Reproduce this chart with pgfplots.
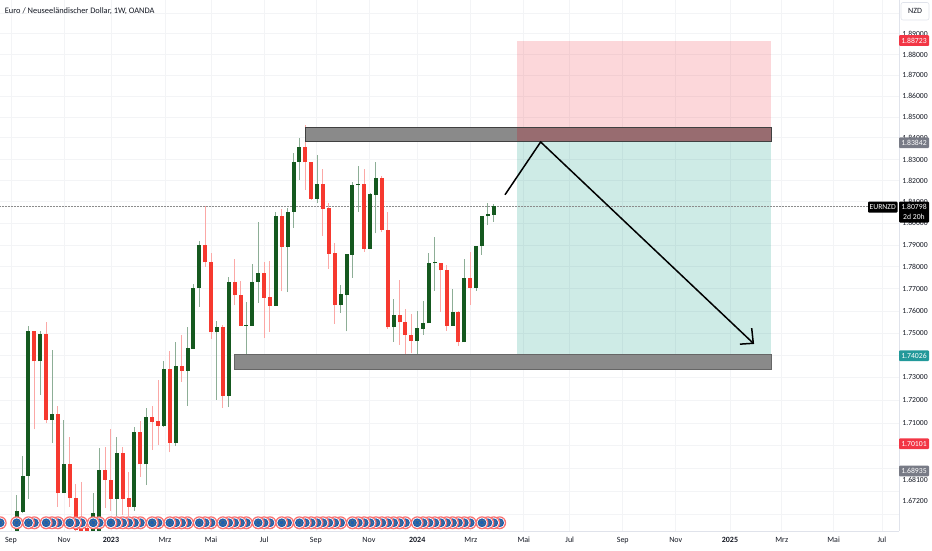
\documentclass[border=0pt]{standalone}
\usepackage{pgfplots}
\usepackage{pgfplotstable}
\usepackage{fontspec}
\setmainfont{Carlito}
\pgfplotsset{compat=1.18}
\definecolor{cgreen}{HTML}{15591F}
\definecolor{cred}{HTML}{F6392F}
\definecolor{wgreen}{HTML}{8DAE96}
\definecolor{wred}{HTML}{FBA8A6}
\definecolor{gridc}{HTML}{F3F4F6}
\definecolor{linec}{HTML}{E0E3EB}
\definecolor{tagred}{HTML}{F23645}
\definecolor{taggray}{HTML}{787B86}
\definecolor{tagteal}{HTML}{22999A}
\definecolor{zonered}{HTML}{F23645}
\definecolor{zoneteal}{HTML}{089981}
\definecolor{txt}{HTML}{131722}
\definecolor{evred}{HTML}{F86F6F}
\definecolor{evblue}{HTML}{1E5FAF}
\definecolor{evdot}{HTML}{6E7D6E}
\pgfplotstableread{
x wt bt bb wb
0 1.6786 1.6717 1.6627 1.6627
1 1.6955 1.6868 1.6714 1.6707
2 1.7532 1.7507 1.6868 1.6769
4 1.7510 1.7496 1.7372 1.7224
6 1.7424 1.7138 1.7113 1.7011
8 1.7113 1.6919 1.6793 1.6793
13 1.6793 1.6708 1.6631 1.6631
14 1.6991 1.6892 1.6631 1.6631
17 1.7037 1.6967 1.6769 1.6693
20 1.7081 1.7059 1.6735 1.6718
22 1.7167 1.7128 1.6919 1.6829
25 1.7376 1.7341 1.7087 1.7081
27 1.7460 1.7350 1.7013 1.7000
29 1.7528 1.7432 1.7330 1.7176
30 1.7723 1.7704 1.7430 1.7428
31 1.7920 1.7901 1.7703 1.7617
34 1.7555 1.7525 1.7502 1.7203
36 1.7755 1.7732 1.7219 1.7169
39 1.7641 1.7537 1.7531 1.7397
40 1.7811 1.7732 1.7532 1.7532
41 1.8006 1.7774 1.7730 1.7637
44 1.8051 1.8032 1.7622 1.7622
46 1.8071 1.8054 1.7891 1.7685
47 1.8329 1.8289 1.8054 1.7979
48 1.8400 1.8359 1.8289 1.8204
51 1.8319 1.8185 1.8114 1.8094
55 1.7718 1.7674 1.7624 1.7592
56 1.7860 1.7857 1.7672 1.7507
57 1.8195 1.8178 1.7855 1.7751
58 1.8266 1.8181 1.8177 1.8053
60 1.8138 1.8135 1.7884 1.7884
61 1.8285 1.8213 1.8133 1.7955
64 1.7654 1.7579 1.7526 1.7461
68 1.7601 1.7522 1.7463 1.7402
69 1.7645 1.7544 1.7519 1.7492
70 1.7863 1.7815 1.7544 1.7544
71 1.7937 1.7820 1.7815 1.7692
74 1.7698 1.7595 1.7532 1.7532
76 1.7837 1.7747 1.7457 1.7457
78 1.7897 1.7895 1.7706 1.7691
79 1.8036 1.8032 1.7893 1.7854
80 1.8097 1.8043 1.8032 1.7994
81 1.8090 1.8080 1.8040 1.8009
}\greentable
\pgfplotstableread{
x wt bt bb wb
3 1.7507 1.7507 1.7372 1.7072
5 1.7549 1.7496 1.7113 1.7099
7 1.7172 1.7138 1.6793 1.6735
9 1.7037 1.6919 1.6772 1.6733
10 1.6834 1.6774 1.6636 1.6622
11 1.6844 1.6653 1.6627 1.6622
12 1.6653 1.6644 1.6622 1.6605
15 1.6996 1.6892 1.6851 1.6729
16 1.7072 1.6851 1.6769 1.6718
18 1.6993 1.6967 1.6769 1.6700
19 1.6887 1.6772 1.6735 1.6693
21 1.7109 1.7059 1.6919 1.6865
23 1.7175 1.7128 1.7104 1.6981
24 1.7287 1.7106 1.7087 1.7003
26 1.7418 1.7341 1.7013 1.6970
28 1.7492 1.7350 1.7330 1.7283
32 1.8082 1.7901 1.7820 1.7802
33 1.7866 1.7820 1.7502 1.7472
35 1.7534 1.7525 1.7219 1.7165
37 1.7837 1.7732 1.7669 1.7624
38 1.7736 1.7671 1.7532 1.7532
42 1.7822 1.7774 1.7660 1.7479
43 1.7826 1.7661 1.7622 1.7505
45 1.8067 1.8032 1.7891 1.7687
49 1.8460 1.8359 1.8285 1.8157
50 1.8287 1.8287 1.8114 1.8110
52 1.8254 1.8185 1.8069 1.7944
53 1.8094 1.8071 1.7860 1.7791
54 1.7909 1.7863 1.7624 1.7541
59 1.8254 1.8181 1.7884 1.7870
62 1.8219 1.8213 1.7967 1.7958
63 1.8053 1.7969 1.7526 1.7517
65 1.7738 1.7579 1.7547 1.7447
66 1.7609 1.7549 1.7490 1.7387
67 1.7586 1.7492 1.7463 1.7409
72 1.7819 1.7819 1.7783 1.7597
73 1.7808 1.7787 1.7532 1.7511
75 1.7600 1.7597 1.7457 1.7442
77 1.7868 1.7747 1.7706 1.7627
}\redtable
\pgfdeclareplotmark{eu}{%
  \pgfpathcircle{\pgfpointorigin}{6.5pt}\pgfsetfillcolor{evred}\pgfusepathqfill
  \pgfpathcircle{\pgfpointorigin}{5.3pt}\pgfsetfillcolor{white}\pgfusepathqfill
  \pgfpathcircle{\pgfpointorigin}{4.4pt}\pgfsetfillcolor{evblue}\pgfusepathqfill
  \pgfsetlinewidth{0.8pt}\pgfsetstrokecolor{evdot}\pgfsetdash{{0.8pt}{0.9pt}}{0pt}%
  \pgfpathcircle{\pgfpointorigin}{2.5pt}\pgfusepathqstroke
  \pgfsetdash{}{0pt}%
}
\newcommand{\tagbox}[5]{% y-centre, text, colour, left, right
  \fill[#3,rounded corners=1pt] (#4,{550-#1-5.4}) rectangle (#5,{550-#1+5.4});
  \node[text=white,font=\fontsize{7.7}{8}\selectfont,inner sep=0pt] at ({(#4+#5)/2},{550-#1}) {#2};
}
\begin{document}
\begin{tikzpicture}[x=1pt,y=1pt]
\useasboundingbox (0,0) rectangle (932,550);
\begin{axis}[
  at={(0pt,19pt)}, anchor=south west,
  scale only axis, width=898.7pt, height=531pt,
  xmin=-2.835, xmax=149.75,
  ymode=log, ymin=1.66311, ymax=1.90661,
  axis x line*=bottom, axis y line*=right,
  axis line style={draw=linec,-},
  major tick length=0pt, minor tick length=0pt,
  grid=minor,
  minor grid style={draw=gridc,line width=0.8pt},
  xtick={-0.97,8.03,16.01,25.18,33,42,50.8,59.8,68,77.1,86.1,93.9,102.9,111.9,121.1,129.9,138.7,146.9},
  xticklabels={Sep,Nov,\textbf{2023},Mrz,Mai,Jul,Sep,Nov,\textbf{2024},Mrz,Mai,Jul,Sep,Nov,\textbf{2025},Mrz,Mai,Jul},
  minor xtick={-0.97,8.03,16.01,25.18,33,42,50.8,59.8,68,77.1,86.1,93.9,102.9,111.9,121.1,129.9,138.7,146.9},
  ytick={1.89,1.88,1.87,1.86,1.85,1.84,1.83,1.82,1.81,1.80,1.79,1.78,1.77,1.76,1.75,1.73,1.72,1.71,1.6851,1.6760},
  yticklabels={1.89000,1.88000,1.87000,1.86000,1.85000,1.84000,1.83000,1.82000,1.81000,1.80000,1.79000,1.78000,1.77000,1.76000,1.75000,1.73000,1.72000,1.71000,1.68100,1.67200},
  minor ytick={1.67,1.68,1.69,1.70,1.71,1.72,1.73,1.74,1.75,1.76,1.77,1.78,1.79,1.80,1.81,1.82,1.83,1.84,1.85,1.86,1.87,1.88,1.89,1.90},
  xticklabel style={font=\fontsize{8}{8}\selectfont,text=txt,inner sep=0pt,yshift=-6pt},
  yticklabel style={font=\fontsize{7.7}{8}\selectfont,text=txt,inner sep=0pt,xshift=3.5pt},
  yticklabel pos=right,
]
% zones under the candles
\addplot[draw=none,fill=zonered,fill opacity=0.2,forget plot] coordinates {(84.97,1.8868)(128.1,1.8868)(128.1,1.83842)(84.97,1.83842)} -- cycle;
\addplot[draw=none,fill=zoneteal,fill opacity=0.2,forget plot] coordinates {(84.97,1.83842)(128.1,1.83842)(128.1,1.74026)(84.97,1.74026)} -- cycle;
% price line
\addplot[draw=black!45,line width=0.5pt,densely dotted,forget plot] coordinates {(-2.835,1.80798)(144.5,1.80798)};
% wicks and bodies
\addplot[draw=none,mark=none,error bars/.cd,y dir=plus,y explicit,error mark=none,error bar style={draw=wgreen,line width=1pt}] table[x=x,y=wb,y error plus expr=\thisrow{wt}-\thisrow{wb}] {\greentable};
\addplot[draw=none,mark=none,error bars/.cd,y dir=plus,y explicit,error mark=none,error bar style={draw=wred,line width=1pt}] table[x=x,y=wb,y error plus expr=\thisrow{wt}-\thisrow{wb}] {\redtable};
\addplot[draw=none,mark=none,error bars/.cd,y dir=plus,y explicit,error mark=none,error bar style={draw=cgreen,line width=4pt}] table[x=x,y=bb,y error plus expr=\thisrow{bt}-\thisrow{bb}] {\greentable};
\addplot[draw=none,mark=none,error bars/.cd,y dir=plus,y explicit,error mark=none,error bar style={draw=cred,line width=4pt}] table[x=x,y=bb,y error plus expr=\thisrow{bt}-\thisrow{bb}] {\redtable};
% grey zones
\addplot[draw=black!75,line width=0.9pt,fill={rgb,255:red,138;green,138;blue,138},forget plot] coordinates {(49.1,1.8450)(128.1,1.8450)(128.1,1.8382)(49.1,1.8382)} -- cycle;
\addplot[draw=none,fill={rgb,255:red,152;green,108;blue,112},forget plot] coordinates {(84.97,1.8447)(128.0,1.8447)(128.0,1.8385)(84.97,1.8385)} -- cycle;
\addplot[draw=black!60,line width=0.9pt,fill={rgb,255:red,138;green,138;blue,138},forget plot] coordinates {(36.95,1.7402)(128.1,1.7402)(128.1,1.7335)(36.95,1.7335)} -- cycle;
% drawn arrow
\addplot[black,line width=1.5pt,forget plot] coordinates {(82.9,1.8133)(88.96,1.8381)(125.06,1.7454)};
\addplot[black,line width=1.5pt,forget plot] coordinates {(124.79,1.7522)(125.06,1.7454)(122.8,1.7450)};
% event bubbles, earlier on top
\addplot[draw=none,only marks,mark=eu,forget plot] coordinates {(82,1.6667)(81,1.6667)(80,1.6667)(79,1.6667)(77,1.6667)(76,1.6667)(75,1.6667)(74,1.6667)(73,1.6667)(72,1.6667)(71,1.6667)(70,1.6667)(69,1.6667)(68,1.6667)(66,1.6667)(65,1.6667)(64,1.6667)(63,1.6667)(62,1.6667)(61,1.6667)(60,1.6667)(59,1.6667)(58,1.6667)(57,1.6667)(55,1.6667)(54,1.6667)(53,1.6667)(52,1.6667)(51,1.6667)(50,1.6667)(49,1.6667)(48,1.6667)(46,1.6667)(45,1.6667)(43,1.6667)(42,1.6667)(41,1.6667)(39,1.6667)(38,1.6667)(37,1.6667)(36,1.6667)(35,1.6667)(33,1.6667)(32,1.6667)(31,1.6667)(29,1.6667)(28,1.6667)(27,1.6667)(26,1.6667)(24,1.6667)(23,1.6667)(21,1.6667)(20,1.6667)(19,1.6667)(18,1.6667)(17,1.6667)(16,1.6667)(14,1.6667)(13,1.6667)(11,1.6667)(10,1.6667)(9,1.6667)(7,1.6667)(6,1.6667)(5,1.6667)(3,1.6667)(2,1.6667)(0,1.6667)(-2.8,1.6667)};
\end{axis}
% title
\node[anchor=west,inner sep=0pt,text=txt,font=\fontsize{8.4}{9}\selectfont] at (4.7,539) {Euro / Neuseeländischer Dollar, 1W, OANDA};
% currency button
\draw[linec,fill=white,rounded corners=2pt,line width=0.6pt] (901,530) rectangle (929,547.5);
\node[text=txt,inner sep=0pt,font=\fontsize{8}{8}\selectfont] at (915,539) {NZD};
% price tags
\tagbox{40.6}{1.88723}{tagred}{899}{929}
\tagbox{142.8}{1.83842}{taggray}{899}{929}
\tagbox{355.8}{1.74026}{tagteal}{899}{929}
\tagbox{443.7}{1.70101}{tagred}{899}{929}
\tagbox{471}{1.68935}{taggray}{899}{929}
\fill[black,rounded corners=1pt] (868,337.3) rectangle (897.5,348.3);
\node[text=white,inner sep=0pt,font=\fontsize{7.7}{8}\selectfont] at (882.7,342.8) {EURNZD};
\fill[black,rounded corners=1pt] (899,327.5) rectangle (929,348.3);
\node[text=white,inner sep=0pt,font=\fontsize{7.7}{8}\selectfont] at (914,342.8) {1.80798};
\node[text=white,inner sep=0pt,font=\fontsize{7.7}{8}\selectfont] at (914,333) {2d 20h};
\end{tikzpicture}
\end{document}
